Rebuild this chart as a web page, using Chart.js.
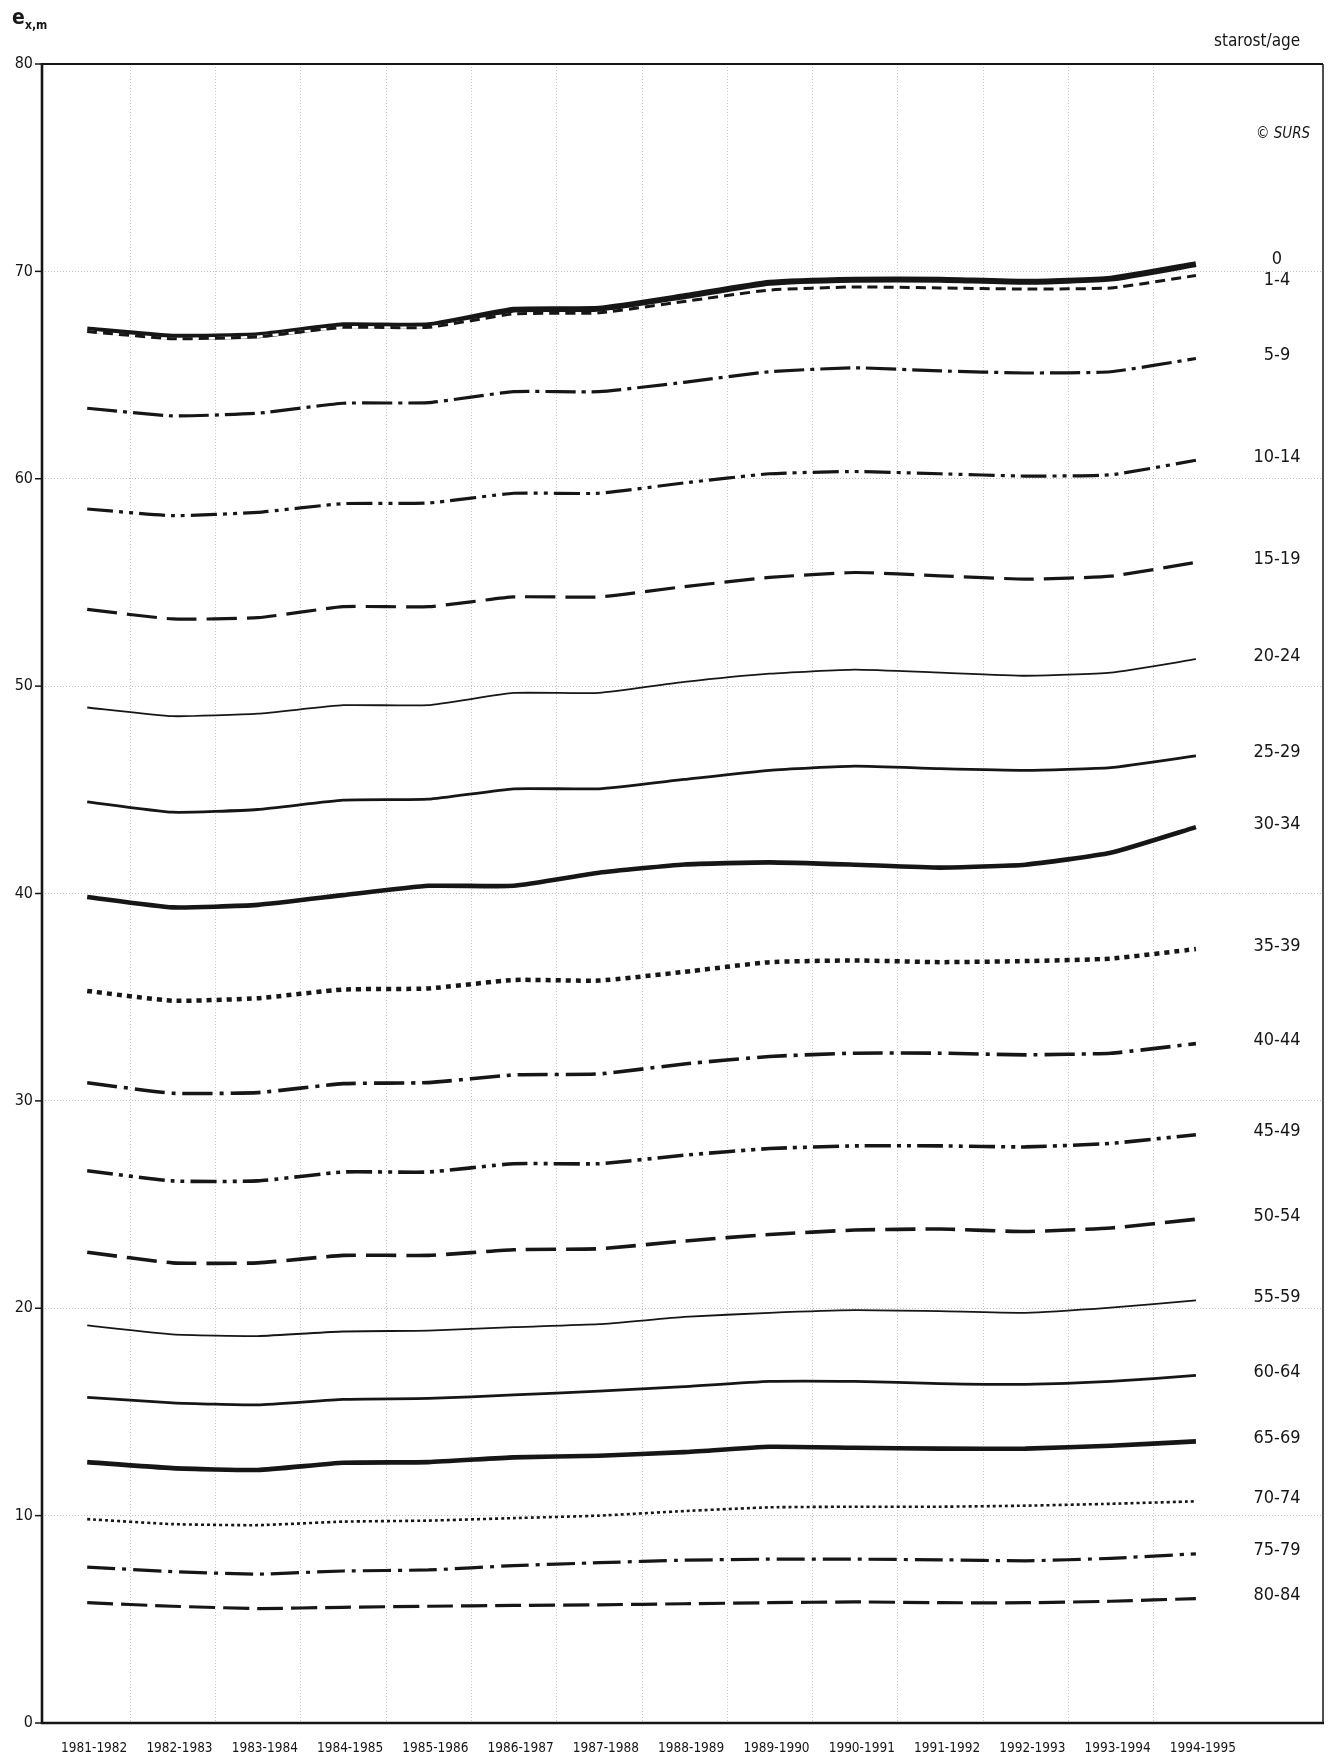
<!DOCTYPE html>
<html>
<head>
<meta charset="utf-8">
<script src="https://cdn.jsdelivr.net/npm/chart.js@4.4.1/dist/chart.umd.min.js"></script>
<style>
  html, body { margin: 0; padding: 0; background: #fff; }
  canvas { display: block; }
</style>
</head>
<body>
<canvas id="chart" width="1336" height="1753"></canvas>
<script>
// life expectancy of men (e x,m) by age group
const categories = [
  "1981-1982", "1982-1983", "1983-1984", "1984-1985", "1985-1986", "1986-1987", "1987-1988",
  "1988-1989", "1989-1990", "1990-1991", "1991-1992", "1992-1993", "1993-1994", "1994-1995",
];
const yTicks = [0, 10, 20, 30, 40, 50, 60, 70, 80];
const ageGroups = ["0", "1-4", "5-9", "10-14", "15-19", "20-24", "25-29", "30-34", "35-39",
  "40-44", "45-49", "50-54", "55-59", "60-64", "65-69", "70-74", "75-79", "80-84"];

const ex0 = [67.2, 66.85, 66.92, 67.4, 67.4, 68.15, 68.2, 68.8, 69.45, 69.6, 69.6, 69.5, 69.65, 70.35];
const ex1_4 = [67.1, 66.75, 66.85, 67.3, 67.3, 67.95, 68.0, 68.55, 69.1, 69.25, 69.2, 69.15, 69.2, 69.8];
const ex5_9 = [63.4, 63.03, 63.16, 63.64, 63.67, 64.2, 64.2, 64.65, 65.16, 65.35, 65.2, 65.1, 65.16, 65.8];
const ex10_14 = [58.54, 58.22, 58.38, 58.8, 58.83, 59.3, 59.3, 59.8, 60.24, 60.35, 60.24, 60.13, 60.19, 60.89];
const ex15_19 = [53.7, 53.24, 53.3, 53.83, 53.83, 54.3, 54.3, 54.8, 55.24, 55.48, 55.32, 55.16, 55.3, 55.97];
const ex20_24 = [48.97, 48.55, 48.67, 49.08, 49.08, 49.67, 49.67, 50.2, 50.6, 50.8, 50.65, 50.5, 50.65, 51.3];
const ex25_29 = [44.42, 43.92, 44.05, 44.5, 44.55, 45.05, 45.05, 45.5, 45.94, 46.14, 46.02, 45.94, 46.07, 46.64];
const ex30_34 = [39.83, 39.33, 39.45, 39.92, 40.37, 40.37, 41.0, 41.4, 41.5, 41.39, 41.25, 41.39, 41.96, 43.2];
const ex35_39 = [35.3, 34.83, 34.95, 35.37, 35.42, 35.83, 35.8, 36.22, 36.69, 36.77, 36.69, 36.74, 36.86, 37.32];
const ex40_44 = [30.87, 30.37, 30.4, 30.83, 30.88, 31.25, 31.3, 31.78, 32.14, 32.3, 32.3, 32.22, 32.3, 32.76];
const ex45_49 = [26.63, 26.14, 26.14, 26.57, 26.57, 26.97, 26.97, 27.38, 27.7, 27.83, 27.83, 27.78, 27.95, 28.37];
const ex50_54 = [22.7, 22.19, 22.19, 22.55, 22.55, 22.82, 22.87, 23.24, 23.56, 23.77, 23.82, 23.7, 23.87, 24.29];
const ex55_59 = [19.17, 18.74, 18.66, 18.88, 18.92, 19.09, 19.23, 19.58, 19.78, 19.91, 19.86, 19.78, 20.03, 20.38];
const ex60_64 = [15.7, 15.44, 15.34, 15.61, 15.65, 15.82, 16.0, 16.22, 16.47, 16.47, 16.37, 16.33, 16.47, 16.76];
const ex65_69 = [12.58, 12.29, 12.2, 12.55, 12.58, 12.81, 12.89, 13.06, 13.32, 13.27, 13.23, 13.23, 13.37, 13.58];
const ex70_74 = [9.83, 9.59, 9.54, 9.71, 9.76, 9.88, 10.0, 10.22, 10.4, 10.43, 10.43, 10.48, 10.57, 10.69];
const ex75_79 = [7.52, 7.3, 7.18, 7.33, 7.38, 7.59, 7.73, 7.85, 7.9, 7.9, 7.87, 7.82, 7.94, 8.16];
const ex80_84 = [5.8, 5.63, 5.52, 5.58, 5.63, 5.67, 5.7, 5.75, 5.8, 5.84, 5.8, 5.8, 5.87, 6.0];

const series = [ex0, ex1_4, ex5_9, ex10_14, ex15_19, ex20_24, ex25_29, ex30_34, ex35_39,
  ex40_44, ex45_49, ex50_54, ex55_59, ex60_64, ex65_69, ex70_74, ex75_79, ex80_84];

// line look per age group (width, dash)
const lineStyles = {
  "0": [6, []],
  "1-4": [3, [10, 6]],
  "5-9": [3.2, [30, 6, 4, 6]],
  "10-14": [3.2, [26, 6, 4, 6, 4, 6]],
  "15-19": [3.2, [30, 10]],
  "20-24": [1.8, []],
  "25-29": [2.8, []],
  "30-34": [4.6, []],
  "35-39": [4.5, [5, 5]],
  "40-44": [3.6, [30, 7, 4, 7]],
  "45-49": [3.6, [26, 6, 4, 6, 4, 6]],
  "50-54": [3.6, [30, 10]],
  "55-59": [1.8, []],
  "60-64": [2.8, []],
  "65-69": [4.6, []],
  "70-74": [2.6, [3, 3]],
  "75-79": [3.2, [28, 7, 4, 7]],
  "80-84": [3.2, [26, 8]],
};

const narrow = '"DejaVu Sans Condensed", "Liberation Sans", sans-serif';
const ink = "#161616";

const toPoints = (values) => values.map((v, i) => ({ x: i, y: v }));

const datasets = ageGroups.map((g, i) => ({
  label: g,
  data: toPoints(series[i]),
  borderColor: ink,
  borderWidth: lineStyles[g][0],
  borderDash: lineStyles[g][1],
  borderCapStyle: "butt",
  borderJoinStyle: "round",
  pointRadius: 0,
  tension: 0.15,
  fill: false,
  order: g === "0" ? 2 : g === "1-4" ? 0 : 3,
}));
// white strip under the 1-4 dashes, so its gaps show white on top of the 0 line
datasets.push({
  label: "1-4 gaps",
  data: toPoints(ex1_4),
  borderColor: "#ffffff",
  borderWidth: 2.4,
  pointRadius: 0,
  tension: 0.15,
  fill: false,
  order: 1,
});

const framePlugin = {
  id: "frame",
  beforeDatasetsDraw(chart) {
    const { ctx, chartArea: a, scales: { x } } = chart;
    ctx.save();
    ctx.strokeStyle = "#c6c6c6";
    ctx.lineWidth = 1;
    ctx.setLineDash([1, 2]);
    for (let i = 0; i < categories.length - 1; i++) {
      const px = Math.round(x.getPixelForValue(i + 0.5)) + 0.5;
      ctx.beginPath();
      ctx.moveTo(px, a.top);
      ctx.lineTo(px, a.bottom);
      ctx.stroke();
    }
    ctx.restore();
  },
  afterDraw(chart) {
    const { ctx, chartArea: a, scales: { y } } = chart;
    ctx.save();
    ctx.strokeStyle = ink;
    ctx.lineWidth = 2;
    ctx.beginPath();
    ctx.moveTo(a.left, a.top);
    ctx.lineTo(a.right, a.top);
    ctx.stroke();
    ctx.lineWidth = 1.5;
    ctx.beginPath();
    ctx.moveTo(a.right, a.top);
    ctx.lineTo(a.right, a.bottom);
    ctx.stroke();
    ctx.lineWidth = 2.6;
    ctx.beginPath();
    ctx.moveTo(a.left, a.top - 1);
    ctx.lineTo(a.left, a.bottom);
    ctx.lineTo(a.right + 1, a.bottom);
    ctx.stroke();
    ctx.lineWidth = 1.5;
    yTicks.forEach((t) => {
      const py = y.getPixelForValue(t);
      ctx.beginPath();
      ctx.moveTo(a.left - 7, py);
      ctx.lineTo(a.left, py);
      ctx.stroke();
    });

    // age labels at the right end of each line
    ctx.fillStyle = ink;
    ctx.font = `18px ${narrow}`;
    ctx.textAlign = "center";
    ctx.textBaseline = "middle";
    ageGroups.forEach((g, i) => {
      const last = series[i][series[i].length - 1];
      const shift = g === "0" ? 0.25 : g === "1-4" ? -0.25 : 0.15;
      ctx.fillText(g, a.right - 46, y.getPixelForValue(last + shift));
    });

    ctx.textAlign = "left";
    ctx.textBaseline = "alphabetic";
    ctx.font = `17px ${narrow}`;
    ctx.fillText("starost/age", 1214, 46);
    ctx.font = `italic 15px ${narrow}`;
    ctx.fillText("\u00a9 SURS", 1256, 138);

    ctx.font = `bold 21px ${narrow}`;
    ctx.fillText("e", 12, 24);
    ctx.font = `bold 12px ${narrow}`;
    ctx.fillText("x,m", 25, 29);
    ctx.restore();
  },
};

new Chart(document.getElementById("chart"), {
  type: "line",
  data: { datasets },
  options: {
    responsive: false,
    animation: false,
    layout: { padding: { top: 64, right: 13, left: 0, bottom: 0 } },
    plugins: { legend: { display: false }, tooltip: { enabled: false } },
    scales: {
      x: {
        type: "linear",
        min: -0.53,
        max: 14.49,
        afterFit: (s) => { s.height = 30; },
        grid: { display: false },
        border: { display: false },
        ticks: {
          stepSize: 1,
          autoSkip: false,
          includeBounds: false,
          maxRotation: 0,
          padding: 9,
          labelOffset: 7,
          color: ink,
          font: { family: narrow, size: 13.5 },
          callback: (v) => (Number.isInteger(v) ? categories[v] || "" : ""),
        },
      },
      y: {
        min: 0,
        max: 80,
        afterFit: (s) => { s.width = 42; },
        grid: { color: "#c2c2c2", lineWidth: 1, drawTicks: false },
        border: { display: false, dash: [1, 2] },
        ticks: {
          stepSize: 10,
          padding: 9,
          color: ink,
          font: { family: narrow, size: 16 },
        },
      },
    },
  },
  plugins: [framePlugin],
});
</script>
</body>
</html>
